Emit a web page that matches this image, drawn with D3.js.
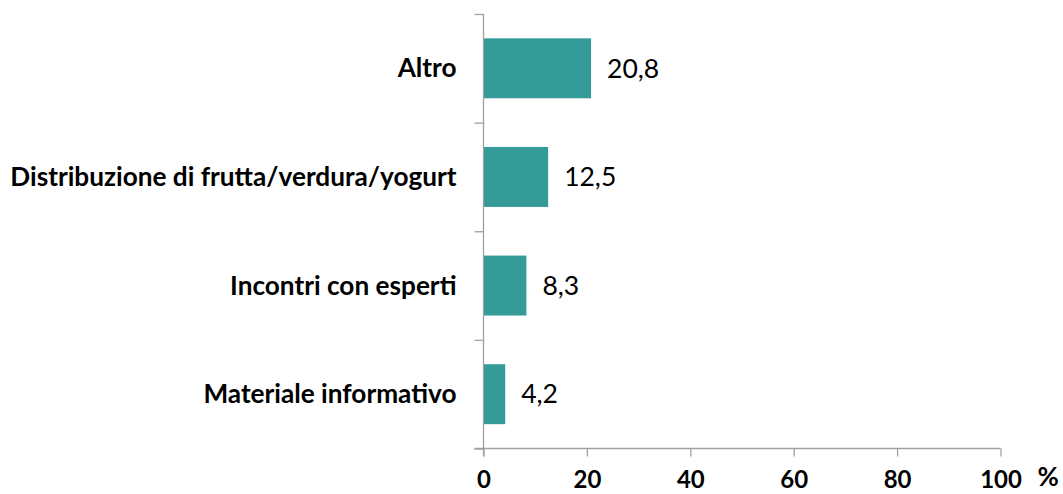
<!DOCTYPE html>
<html>
<head>
<meta charset="utf-8">
<script src="https://cdn.jsdelivr.net/npm/d3@7"></script>
<style>
  html, body { margin: 0; padding: 0; background: #fff; }
  svg { display: block; }
</style>
</head>
<body>
<div id="chart"></div>
<script>
const categories = ["Altro", "Distribuzione di frutta/verdura/yogurt", "Incontri con esperti", "Materiale informativo"];
const values = [20.8, 12.5, 8.3, 4.2];
const valueLabels = ["20,8", "12,5", "8,3", "4,2"];
const xTicks = [0, 20, 40, 60, 80, 100];
const unitLabel = "%";

const W = 1063, H = 494;
const FONT = "Lato, 'Open Sans', sans-serif";
const AXIS = "#a0a0a0";
const BAR = "#349b98";

const svg = d3.select("#chart").append("svg")
  .attr("width", W).attr("height", H);

const x = d3.scaleLinear().domain([0, 100]).range([483.5, 1000.5]);
const y = d3.scaleBand().domain(categories).range([14, 448.5])
  .paddingInner(0.448).paddingOuter(0.224);
const yb = d3.scaleLinear().domain([0, categories.length]).range([14, 448.5]);

// Bars
svg.append("g").selectAll("rect").data(values).join("rect")
  .attr("x", x(0))
  .attr("y", (d, i) => y(categories[i]))
  .attr("width", d => x(d) - x(0))
  .attr("height", y.bandwidth())
  .attr("fill", BAR);

// Y axis (boundary ticks)
const yAxis = svg.append("g").attr("transform", `translate(${x(0)},0)`)
  .call(d3.axisLeft(yb).tickValues(d3.range(categories.length + 1)).tickFormat("").tickSize(9).tickSizeOuter(0));
yAxis.select(".domain").remove();
yAxis.selectAll("line").attr("stroke", AXIS).attr("stroke-width", 1.3);
svg.append("line").attr("x1", x(0)).attr("x2", x(0))
  .attr("y1", yb(0)).attr("y2", yb(categories.length) + 8)
  .attr("stroke", AXIS).attr("stroke-width", 1.3);

// X axis
const xAxis = svg.append("g").attr("transform", `translate(0,${yb(categories.length)})`)
  .call(d3.axisBottom(x).tickValues(xTicks).tickSize(8).tickSizeOuter(0).tickPadding(0));
xAxis.select(".domain").remove();
xAxis.selectAll("line").attr("stroke", AXIS).attr("stroke-width", 1.3);
xAxis.selectAll("text")
  .attr("font-family", FONT).attr("font-weight", "bold").attr("font-size", 24)
  .attr("fill", "#000").attr("y", 39).attr("dy", null);
svg.append("line").attr("x1", x(0) - 9).attr("x2", x(100))
  .attr("y1", yb(categories.length)).attr("y2", yb(categories.length))
  .attr("stroke", AXIS).attr("stroke-width", 1.3);

// Unit label
svg.append("text").attr("x", x(100) + 37).attr("y", yb(categories.length) + 37)
  .attr("font-family", FONT).attr("font-weight", "bold").attr("font-size", 26)
  .text(unitLabel);

// Category labels
svg.append("g").selectAll("text").data(categories).join("text")
  .attr("x", x(0) - 27)
  .attr("y", d => y(d) + y.bandwidth() / 2)
  .attr("dy", "0.35em")
  .attr("text-anchor", "end")
  .attr("font-family", FONT).attr("font-weight", "bold").attr("font-size", 26.2)
  .text(d => d);

// Value labels
svg.append("g").selectAll("text").data(values).join("text")
  .attr("x", d => x(d) + 16)
  .attr("y", (d, i) => y(categories[i]) + y.bandwidth() / 2)
  .attr("dy", "0.35em")
  .attr("font-family", FONT).attr("font-size", 26.5)
  .text((d, i) => valueLabels[i]);
</script>
</body>
</html>
